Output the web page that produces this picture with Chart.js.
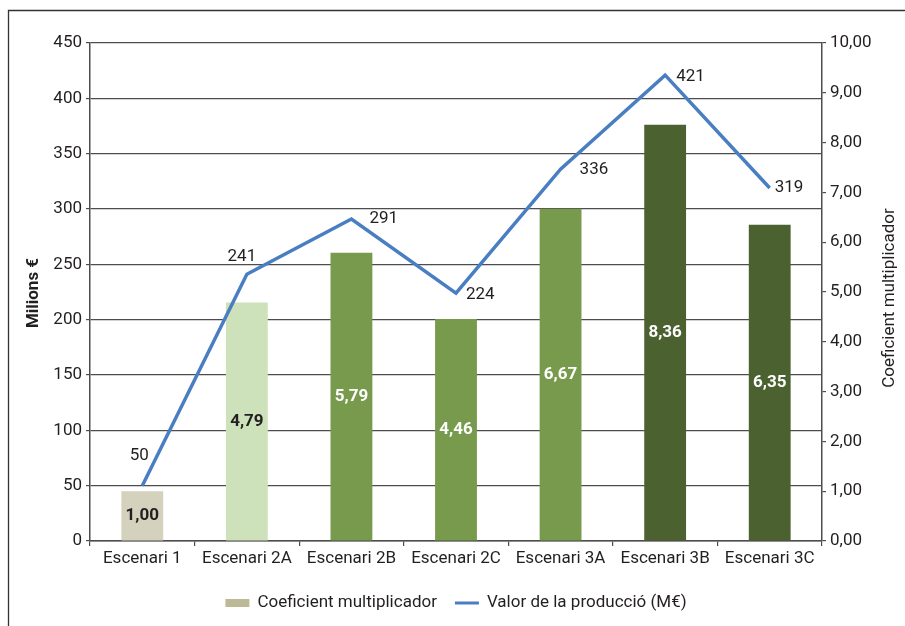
<!DOCTYPE html>
<html lang="ca">
<head>
<meta charset="UTF-8">
<title>Coeficient multiplicador i valor de la producció</title>
<script src="https://cdn.jsdelivr.net/npm/chart.js@4.4.0/dist/chart.umd.min.js"></script>
<style>
  html, body { margin: 0; padding: 0; background: #fff; }
  #wrap { position: relative; width: 905px; height: 626px; }
</style>
</head>
<body>
<div id="wrap"><canvas id="myChart" width="905" height="626"></canvas></div>
<script>
// categories and series
const escenaris = ['Escenari 1', 'Escenari 2A', 'Escenari 2B', 'Escenari 2C', 'Escenari 3A', 'Escenari 3B', 'Escenari 3C'];
const coeficient = [1.00, 4.79, 5.79, 4.46, 6.67, 8.36, 6.35];
const valorProduccio = [50, 241, 291, 224, 336, 421, 319];

// axis ranges
const milionsMax = 450, milionsStep = 50;
const coefMax = 10, coefStep = 1;

const FONT = "Roboto, 'Liberation Sans', sans-serif";
const FS = 17;
const TEXT = '#231f20';
const GRID = '#4d4d4d';
const BLUE = '#4a7ec2';

const barColors = ['#d4d1bd', '#cde2bb', '#779a4c', '#779a4c', '#779a4c', '#4b6130', '#4b6130'];
const barTextColors = [TEXT, TEXT, '#ffffff', '#ffffff', '#ffffff', '#ffffff', '#ffffff'];
const legendBarColor = '#bdb997';

// where each line value sits relative to its point
const lineLabelPos = [
  { align: 'center', dx: -3, dy: -30 },
  { align: 'center', dx: -5, dy: -18 },
  { align: 'left', dx: 18, dy: 0 },
  { align: 'left', dx: 10, dy: 2 },
  { align: 'left', dx: 19, dy: 1 },
  { align: 'left', dx: 11, dy: 2 },
  { align: 'left', dx: 5, dy: 0 }
];

const comma = (v, d) => v.toFixed(d).replace('.', ',');

Chart.defaults.font.family = FONT;
Chart.defaults.font.size = FS;
Chart.defaults.color = TEXT;

// outer frame (top and left edges)
const framePlugin = {
  id: 'frame',
  beforeDraw(chart) {
    const c = chart.ctx;
    c.save();
    c.strokeStyle = '#333';
    c.lineWidth = 1.3;
    c.beginPath();
    c.moveTo(8.5, chart.height);
    c.lineTo(8.5, 10.5);
    c.lineTo(chart.width, 10.5);
    c.stroke();
    c.restore();
  }
};

// values on bars and next to line points
const valuesPlugin = {
  id: 'values',
  afterDatasetsDraw(chart) {
    const c = chart.ctx;
    c.save();
    c.textBaseline = 'middle';

    const barMeta = chart.getDatasetMeta(1);
    c.font = 'bold ' + FS + 'px ' + FONT;
    c.textAlign = 'center';
    barMeta.data.forEach((el, i) => {
      c.fillStyle = barTextColors[i];
      c.fillText(comma(coeficient[i], 2), el.x, (el.y + el.base) / 2);
    });

    const lineMeta = chart.getDatasetMeta(0);
    c.font = FS + 'px ' + FONT;
    c.fillStyle = TEXT;
    lineMeta.data.forEach((pt, i) => {
      const p = lineLabelPos[i];
      c.textAlign = p.align;
      c.fillText(String(valorProduccio[i]), pt.x + p.dx, pt.y + p.dy);
    });
    c.restore();
  }
};

// axis titles and legend
const titlesPlugin = {
  id: 'titles',
  afterDraw(chart) {
    const c = chart.ctx;
    const area = chart.chartArea;
    const midY = (area.top + area.bottom) / 2;
    c.save();
    c.fillStyle = TEXT;
    c.textAlign = 'center';
    c.textBaseline = 'middle';

    c.save();
    c.translate(34, midY + 1);
    c.rotate(-Math.PI / 2);
    c.font = 'bold ' + FS + 'px ' + FONT;
    c.fillText('Milions €', 0, 0);
    c.restore();

    c.save();
    c.translate(890, midY + 6);
    c.rotate(-Math.PI / 2);
    c.font = FS + 'px ' + FONT;
    c.fillText('Coeficient multiplicador', 0, 0);
    c.restore();

    // legend
    c.font = FS + 'px ' + FONT;
    c.textAlign = 'left';
    const items = [
      { text: chart.data.datasets[1].label, kind: 'bar' },
      { text: chart.data.datasets[0].label, kind: 'line' }
    ];
    const sw = 24, gapIn = 8, gapOut = 18;
    const widths = items.map(it => sw + gapIn + c.measureText(it.text).width);
    const total = widths.reduce((a, b) => a + b, 0) + gapOut;
    let x = (area.left + area.right) / 2 - total / 2;
    const y = 603;
    items.forEach((it, i) => {
      if (it.kind === 'bar') {
        c.fillStyle = legendBarColor;
        c.fillRect(x, y - 4, sw, 8);
      } else {
        c.strokeStyle = BLUE;
        c.lineWidth = 3;
        c.beginPath();
        c.moveTo(x, y);
        c.lineTo(x + sw, y);
        c.stroke();
      }
      c.fillStyle = TEXT;
      c.fillText(it.text, x + sw + gapIn, y);
      x += widths[i] + gapOut;
    });
    c.restore();
  }
};

const ctx = document.getElementById('myChart').getContext('2d');

new Chart(ctx, {
  data: {
    labels: escenaris,
    datasets: [
      {
        type: 'line',
        label: 'Valor de la producció (M€)',
        data: valorProduccio,
        yAxisID: 'y',
        borderColor: BLUE,
        borderWidth: 3.5,
        borderJoinStyle: 'miter',
        pointRadius: 0,
        tension: 0,
        fill: false,
        order: 0
      },
      {
        type: 'bar',
        label: 'Coeficient multiplicador',
        data: coeficient,
        yAxisID: 'y1',
        backgroundColor: barColors,
        borderWidth: 0,
        categoryPercentage: 1,
        barPercentage: 0.4,
        order: 1
      }
    ]
  },
  options: {
    responsive: false,
    devicePixelRatio: 1,
    animation: false,
    layout: { padding: { left: 0, right: 0, top: 43, bottom: 0 } },
    plugins: {
      legend: { display: false },
      tooltip: { enabled: false }
    },
    scales: {
      x: {
        afterFit(s) { s.height = 85; },
        grid: {
          offset: true,
          drawOnChartArea: false,
          color: GRID,
          lineWidth: 1.2,
          tickLength: 5
        },
        border: { color: GRID, width: 1.5 },
        ticks: { padding: 3, color: TEXT, maxRotation: 0, autoSkip: false }
      },
      y: {
        position: 'left',
        min: 0,
        max: milionsMax,
        afterFit(s) { s.width = 90; },
        grid: { color: GRID, lineWidth: 1.2, tickLength: 4 },
        border: { color: GRID, width: 1.5 },
        ticks: { stepSize: milionsStep, padding: 4, color: TEXT }
      },
      y1: {
        position: 'right',
        min: 0,
        max: coefMax,
        afterFit(s) { s.width = 83; },
        grid: { drawOnChartArea: false, color: GRID, lineWidth: 1.2, tickLength: 4 },
        border: { color: GRID, width: 1.5 },
        ticks: {
          stepSize: coefStep,
          padding: 4,
          color: TEXT,
          callback: v => comma(v, 2)
        }
      }
    }
  },
  plugins: [framePlugin, valuesPlugin, titlesPlugin]
});
</script>
</body>
</html>
